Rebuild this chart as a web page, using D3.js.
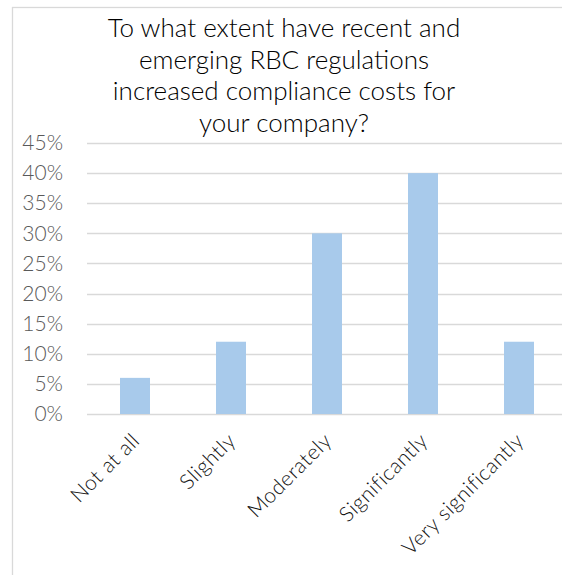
<!DOCTYPE html>
<html>
<head>
<meta charset="utf-8">
<script src="https://cdn.jsdelivr.net/npm/d3@7"></script>
<style>
  body { margin: 0; background: #fff; }
  svg { display: block; }
</style>
</head>
<body>
<div id="chart"></div>
<script>
// Data
const categories = ["Not at all", "Slightly", "Moderately", "Significantly", "Very significantly"];
const values = [0.06, 0.12, 0.30, 0.40, 0.12];
const yTicks = [0, 0.05, 0.10, 0.15, 0.20, 0.25, 0.30, 0.35, 0.40, 0.45];
const titleLines = [
    "To what extent have recent and",
    "emerging RBC regulations",
    "increased compliance costs for",
    "your company?"
];

const W = 562, H = 575;
const plot = {left: 87, right: 567, top: 143, bottom: 414};
const font = "Lato, 'Open Sans', sans-serif";

const svg = d3.select("#chart")
    .append("svg")
    .attr("width", W)
    .attr("height", H);

// Chart border
svg.append("rect")
    .attr("x", 12.5)
    .attr("y", 7.5)
    .attr("width", 600)
    .attr("height", 600)
    .attr("fill", "none")
    .attr("stroke", "#d9d9d9")
    .attr("stroke-width", 1.3);

// Scales
const x = d3.scaleBand()
    .domain(categories)
    .range([plot.left, plot.right])
    .paddingInner(0.6875)
    .paddingOuter(0.34375);

const y = d3.scaleLinear()
    .domain([0, 0.45])
    .range([plot.bottom, plot.top]);

// Gridlines
svg.append("g")
    .selectAll("line")
    .data(yTicks)
    .join("line")
    .attr("x1", plot.left)
    .attr("x2", plot.right)
    .attr("y1", d => Math.round(y(d)) + 0.5)
    .attr("y2", d => Math.round(y(d)) + 0.5)
    .attr("stroke", "#d9d9d9")
    .attr("stroke-width", 1.5);

// Y axis labels
const yAxis = svg.append("g")
    .attr("transform", `translate(${plot.left - 24},0)`)
    .call(d3.axisLeft(y).tickValues(yTicks).tickFormat(d3.format(".0%")).tickSize(0).tickPadding(0));
yAxis.select(".domain").remove();
yAxis.selectAll("text")
    .attr("fill", "#595959")
    .style("font-family", font)
    .style("font-weight", 300)
    .style("font-size", "21px");

// Bars
svg.append("g")
    .selectAll("rect")
    .data(values)
    .join("rect")
    .attr("x", (d, i) => x(categories[i]))
    .attr("y", d => y(d))
    .attr("width", x.bandwidth())
    .attr("height", d => y(0) - y(d))
    .attr("fill", "#a8caeb");

// X axis labels (rotated)
const xAxis = svg.append("g")
    .attr("transform", `translate(0,${plot.bottom})`)
    .call(d3.axisBottom(x).tickSize(0).tickPadding(0));
xAxis.select(".domain").remove();
xAxis.selectAll("text")
    .attr("fill", "#111")
    .attr("text-anchor", "end")
    .attr("dy", "0")
    .attr("transform", "translate(6,28) rotate(-45)")
    .style("font-family", font)
    .style("font-weight", 300)
    .style("font-size", "21px")
    .style("letter-spacing", "0.5px");

// Title
svg.append("text")
    .attr("x", 284)
    .attr("y", 37)
    .attr("text-anchor", "middle")
    .attr("fill", "#000")
    .style("font-family", font)
    .style("font-weight", 300)
    .style("font-size", "26px")
    .selectAll("tspan")
    .data(titleLines)
    .join("tspan")
    .attr("x", 284)
    .attr("dy", (d, i) => i === 0 ? 0 : 31.5)
    .text(d => d);
</script>
</body>
</html>
